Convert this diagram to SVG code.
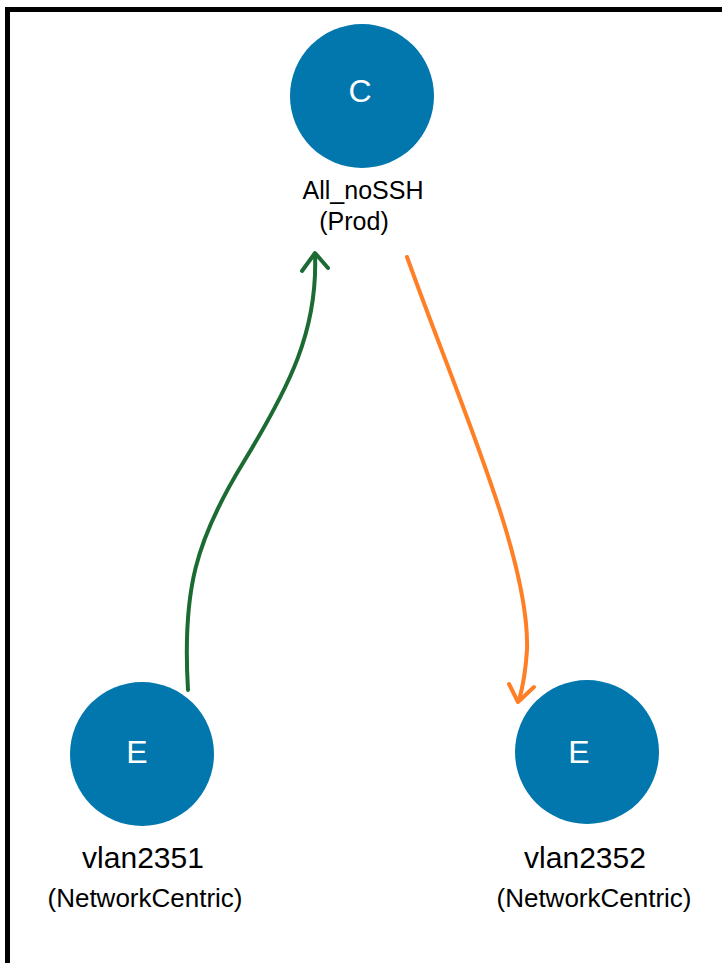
<svg xmlns="http://www.w3.org/2000/svg" width="722" height="963" viewBox="0 0 722 963">
<style>
.node circle{fill:#0177ad}
.glyph{fill:#ffffff;font-family:"Liberation Sans",Arial,sans-serif;font-size:32px;text-anchor:middle}
.name{fill:#000;font-family:"Liberation Sans",Arial,sans-serif;text-anchor:middle}
.edge{fill:none;stroke-width:4;stroke-linecap:round;stroke-linejoin:round}
</style>
<rect x="0" y="0" width="722" height="963" fill="#ffffff"/>
<rect x="7.5" y="9.5" width="740" height="990" fill="none" stroke="#000" stroke-width="5"/>
<g id="connectors">
  <g id="edge-green">
    <path class="edge" stroke="#1b6b32" d="M188,690 C182,590 196,540 243,463 S318,330 315,254"/>
    <path class="edge" stroke="#1b6b32" d="M302,271 L315,253 L328,268"/>
  </g>
  <g id="edge-orange">
    <path class="edge" stroke="#ff7f27" d="M407,257 C462,410 530,560 527,650 Q525,680 519,700"/>
    <path class="edge" stroke="#ff7f27" d="M509,684 L518,702 L534,687"/>
  </g>
</g>
<g id="node-all-nossh" class="node">
  <circle cx="362" cy="96" r="72"/>
  <text class="glyph" x="360" y="102">C</text>
  <text class="name" x="363" y="199" font-size="25">All_noSSH</text>
  <text class="name" x="354" y="230" font-size="25">(Prod)</text>
</g>
<g id="node-vlan2351" class="node">
  <circle cx="142" cy="754" r="72"/>
  <text class="glyph" x="137" y="763">E</text>
  <text class="name" x="143" y="868" font-size="30">vlan2351</text>
  <text class="name" x="145" y="907" font-size="26">(NetworkCentric)</text>
</g>
<g id="node-vlan2352" class="node">
  <circle cx="587" cy="752" r="72"/>
  <text class="glyph" x="579" y="763">E</text>
  <text class="name" x="585" y="868" font-size="30">vlan2352</text>
  <text class="name" x="594" y="907" font-size="26">(NetworkCentric)</text>
</g>
</svg>
